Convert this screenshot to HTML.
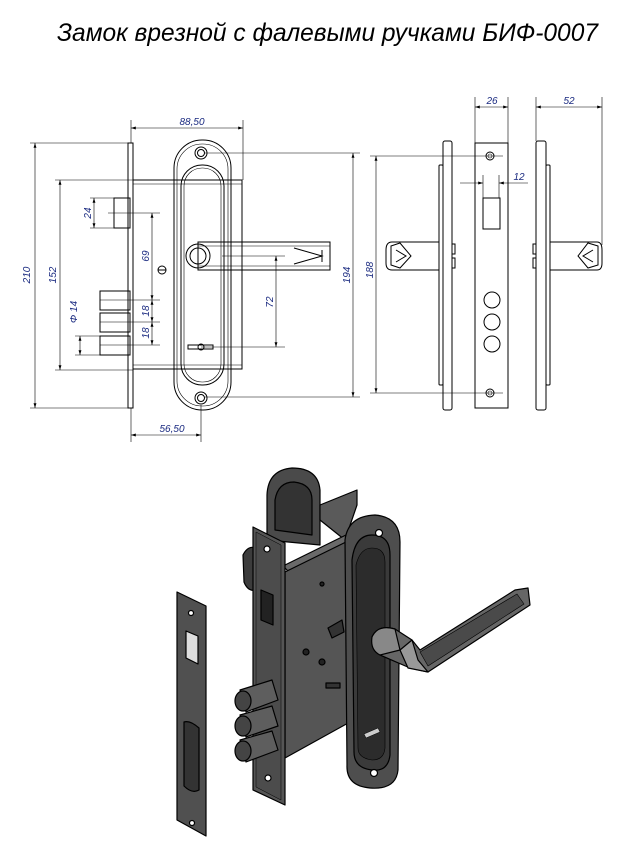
<!DOCTYPE html>
<html><head><meta charset="utf-8"><style>
html,body{margin:0;padding:0;background:#fff;}
svg{display:block}
.l{stroke:#000;stroke-width:1;fill:none}
.t{stroke:#000;stroke-width:0.6;fill:none}
.d{font-family:"Liberation Sans",sans-serif;font-style:italic;font-size:10px;fill:#1a2a80}
</style></head><body>
<svg width="628" height="851" viewBox="0 0 628 851" xmlns="http://www.w3.org/2000/svg">
<defs>
<marker id="a" viewBox="0 0 10 6" refX="10" refY="3" markerWidth="8" markerHeight="5" orient="auto-start-reverse"><path d="M0,0L10,3L0,6z" fill="#000"/></marker>
</defs>
<text x="57" y="41" font-family="'Liberation Sans','DejaVu Sans',sans-serif" font-style="italic" font-size="25" textLength="541" lengthAdjust="spacingAndGlyphs">Замок врезной с фалевыми ручками БИФ-0007</text>

<!-- FRONT VIEW -->
<rect class="l" x="128" y="143" width="5" height="265"/>
<rect class="l" x="133" y="180" width="109" height="189"/>
<line class="t" x1="133" y1="184" x2="242" y2="184"/>
<line class="t" x1="133" y1="365" x2="242" y2="365"/>
<rect class="l" x="114" y="198" width="16" height="30"/>
<rect class="l" x="100" y="291" width="30" height="19"/>
<rect class="l" x="100" y="313" width="30" height="19"/>
<rect class="l" x="100" y="336" width="30" height="19"/>
<circle class="l" cx="162" cy="270" r="4"/><line class="l" x1="158" y1="270" x2="166" y2="270"/>
<rect class="l" x="174" y="140" width="57" height="270" rx="28" fill="#fff"/>
<rect class="t" x="177" y="144" width="51" height="262" rx="25"/>
<rect class="l" x="181" y="165" width="43" height="220" rx="21"/>
<rect class="t" x="184" y="168" width="37" height="214" rx="18"/>
<circle class="l" cx="201" cy="153" r="6"/><circle class="l" cx="201" cy="153" r="3.5"/>
<circle class="l" cx="201" cy="398" r="6"/><circle class="l" cx="201" cy="398" r="3.5"/>
<rect class="l" x="198" y="242" width="132" height="28" fill="#fff"/>
<line class="t" x1="198" y1="246" x2="330" y2="246"/>
<line class="t" x1="198" y1="266" x2="330" y2="266"/>
<path class="l" d="M294,248L322,256L294,264M322,250L322,262"/>
<circle class="l" cx="198" cy="256" r="12" fill="#fff"/><circle class="l" cx="198" cy="256" r="8"/>
<rect class="l" x="188" y="345" width="25" height="4"/><circle class="l" cx="201" cy="347" r="3" fill="#fff"/>
<!-- dims front -->
<g class="t">
<line x1="30" y1="143" x2="128" y2="143"/><line x1="30" y1="408" x2="128" y2="408"/>
<line x1="55" y1="180" x2="133" y2="180"/><line x1="55" y1="370" x2="133" y2="370"/>
<line x1="90" y1="198" x2="114" y2="198"/><line x1="90" y1="228" x2="114" y2="228"/>
<line x1="108" y1="213" x2="160" y2="213"/>
<line x1="100" y1="300" x2="160" y2="300"/><line x1="100" y1="322" x2="160" y2="322"/><line x1="100" y1="345" x2="160" y2="345"/>
<line x1="75" y1="336" x2="100" y2="336"/><line x1="75" y1="355" x2="100" y2="355"/>
<line x1="222" y1="256" x2="285" y2="256"/><line x1="201" y1="347" x2="285" y2="347"/>
<line x1="205" y1="153" x2="360" y2="153"/><line x1="205" y1="397" x2="360" y2="397"/>
<line x1="131" y1="120" x2="131" y2="143"/><line x1="243" y1="120" x2="243" y2="180"/>
<line x1="201" y1="405" x2="201" y2="442"/><line x1="131" y1="408" x2="131" y2="442"/>
</g>
<g class="t" marker-start="url(#a)" marker-end="url(#a)">
<line x1="35" y1="143" x2="35" y2="408"/>
<line x1="60" y1="180" x2="60" y2="370"/>
<line x1="94" y1="198" x2="94" y2="228"/>
<line x1="152" y1="213" x2="152" y2="300"/>
<line x1="152" y1="300" x2="152" y2="322"/>
<line x1="152" y1="322" x2="152" y2="345"/>
<line x1="80" y1="336" x2="80" y2="355"/>
<line x1="276" y1="256" x2="276" y2="347"/>
<line x1="353" y1="153" x2="353" y2="397"/>
<line x1="131" y1="128" x2="243" y2="128"/>
<line x1="131" y1="435" x2="201" y2="435"/>
</g>
<text class="d" transform="translate(30,275) rotate(-90)" text-anchor="middle">210</text>
<text class="d" transform="translate(56,275) rotate(-90)" text-anchor="middle">152</text>
<text class="d" transform="translate(91,213) rotate(-90)" text-anchor="middle">24</text>
<text class="d" transform="translate(149,256) rotate(-90)" text-anchor="middle">69</text>
<text class="d" transform="translate(149,311) rotate(-90)" text-anchor="middle">18</text>
<text class="d" transform="translate(149,333) rotate(-90)" text-anchor="middle">18</text>
<text class="d" transform="translate(77,312) rotate(-90)" text-anchor="middle">Φ 14</text>
<text class="d" transform="translate(273,302) rotate(-90)" text-anchor="middle">72</text>
<text class="d" transform="translate(350,275) rotate(-90)" text-anchor="middle">194</text>
<text class="d" x="192" y="125" text-anchor="middle">88,50</text>
<text class="d" x="172" y="432" text-anchor="middle">56,50</text>

<!-- SIDE VIEW LEFT -->
<rect class="l" x="443" y="141" width="9" height="269" rx="2"/>
<rect class="l" x="439" y="165" width="4" height="220" rx="1"/>
<rect class="l" x="452" y="244" width="3" height="10"/><rect class="l" x="452" y="258" width="3" height="10"/>
<path class="l" d="M439,242L392,242Q386,242 386,250L386,263Q386,270 392,270L439,270"/>
<path class="l" d="M391,246L400,243L411,256L400,268L391,265Z M396,250L406,256L396,262"/>
<!-- strike middle -->
<rect class="l" x="475" y="143" width="33" height="265"/>
<circle class="l" cx="490" cy="156" r="4"/><circle class="t" cx="490" cy="156" r="2"/>
<circle class="l" cx="490" cy="393" r="4"/><circle class="t" cx="490" cy="393" r="2"/>
<rect class="l" x="483" y="198" width="17" height="31"/>
<circle class="l" cx="492" cy="300" r="8" stroke-width="2"/>
<circle class="l" cx="492" cy="322" r="8" stroke-width="2"/>
<circle class="l" cx="492" cy="344" r="8" stroke-width="2"/>
<!-- SIDE VIEW RIGHT -->
<rect class="l" x="536" y="141" width="10" height="269" rx="2"/>
<rect class="l" x="546" y="165" width="4" height="220" rx="1"/>
<rect class="l" x="533" y="244" width="3" height="10"/><rect class="l" x="533" y="258" width="3" height="10"/>
<path class="l" d="M550,242L597,242Q602,242 602,250L602,263Q602,270 597,270L550,270"/>
<path class="l" d="M598,246L588,243L578,256L588,268L598,265Z M593,250L583,256L593,262"/>
<!-- side dims -->
<g class="t">
<line x1="475" y1="97" x2="475" y2="143"/><line x1="508" y1="97" x2="508" y2="143"/>
<line x1="536" y1="97" x2="536" y2="141"/><line x1="602" y1="97" x2="602" y2="245"/>
<line x1="483" y1="175" x2="483" y2="198"/><line x1="499" y1="175" x2="499" y2="198"/>
<line x1="370" y1="156" x2="503" y2="156"/><line x1="370" y1="393" x2="503" y2="393"/>
<line x1="460" y1="183" x2="483" y2="183" marker-end="url(#a)"/>
<line x1="528" y1="183" x2="499" y2="183" marker-end="url(#a)"/>
</g>
<g class="t" marker-start="url(#a)" marker-end="url(#a)">
<line x1="475" y1="107" x2="508" y2="107"/>
<line x1="536" y1="107" x2="602" y2="107"/>
<line x1="376" y1="156" x2="376" y2="393"/>
</g>
<text class="d" x="492" y="104" text-anchor="middle">26</text>
<text class="d" x="569" y="104" text-anchor="middle">52</text>
<text class="d" x="519" y="180" text-anchor="middle">12</text>
<text class="d" transform="translate(373,270) rotate(-90)" text-anchor="middle">188</text>

<!-- 3D VIEW -->
<g stroke="#000" stroke-width="1.2" stroke-linejoin="round">
<!-- back rosette -->
<path d="M267,540L267,495Q268,470 292,468Q318,468 320,490L320,545Z" fill="#4a4a4a"/>
<path d="M275,530L275,500Q278,482 294,482Q312,484 312,500L312,535Z" fill="#333"/>
<!-- body top -->
<path d="M320,505L357,490L357,505L345,540L330,528L320,520Z" fill="#5a5a5a"/>
<path d="M283,566L350,533L357,540L290,573Z" fill="#6a6a6a"/>
<path d="M243,555Q248,545 256,548L256,590Q248,592 244,582Z" fill="#3c3c3c"/>
<!-- body front -->
<path d="M285,572L350,540L350,722L285,758Z" fill="#555"/>
<circle cx="322" cy="584" r="2" fill="#222"/>
<circle cx="306" cy="652" r="3" fill="#222"/><circle cx="322" cy="662" r="3" fill="#222"/>
<path d="M328,628L342,620L344,632L332,638Z" fill="#333"/>
<rect x="326" y="683" width="14" height="5" fill="#333"/>
<!-- faceplate -->
<path d="M253,527L285,543L285,805L253,790Z" fill="#555"/>
<path d="M256,532L281,545L281,800L256,787Z" fill="#4c4c4c" stroke-width="0.5"/>
<circle cx="267" cy="549" r="3" fill="#fff"/><circle cx="268" cy="778" r="3" fill="#fff"/>
<path d="M261,590L273,595L273,625L261,620Z" fill="#222"/>
<!-- bolts -->
<g fill="#5e5e5e">
<path d="M240,690L272,680L278,700L246,712Z"/><ellipse cx="243" cy="701" rx="8" ry="10" fill="#444"/>
<path d="M240,715L272,706L278,726L246,737Z"/><ellipse cx="243" cy="726" rx="8" ry="10" fill="#444"/>
<path d="M240,740L272,731L278,750L246,762Z"/><ellipse cx="243" cy="751" rx="8" ry="10" fill="#444"/>
</g>
<!-- strike plate -->
<path d="M177,592L206,606L206,836L177,820Z" fill="#505050"/>
<circle cx="191" cy="613" r="2.5" fill="#fff"/><circle cx="192" cy="823" r="2.5" fill="#fff"/>
<path d="M186,631L198,636L198,664L186,658Z" fill="#ddd"/>
<path d="M184,722Q190,720 199,728L199,790Q192,794 184,786Z" fill="#333"/>
<!-- front rosette -->
<path d="M345,540Q348,516 375,515Q400,517 400,542L398,770Q396,790 370,788Q346,786 347,765Z" fill="#4e4e4e"/>
<path d="M352,560Q355,535 372,535Q390,535 390,555L390,755Q388,772 372,770Q354,768 354,752Z" fill="#3a3a3a"/>
<path d="M356,565Q360,548 372,548Q385,548 385,562L385,748Q384,760 372,760Q358,758 358,748Z" fill="#2c2c2c" stroke-width="0.6"/>
<circle cx="379" cy="533" r="3.5" fill="#fff"/><circle cx="374" cy="773" r="3.5" fill="#fff"/>
<path d="M364,734L378,728L380,732L366,738Z" fill="#ccc" stroke-width="0.5"/>
<!-- handle -->
<path d="M372,637Q378,624 395,629L412,640L420,650L515,590L528,588L530,605L428,672L410,668L380,655Z" fill="#666"/>
<path d="M412,640L418,660L428,672L408,668L400,650Z" fill="#999"/>
<path d="M420,652L517,594L524,604L428,666Z" fill="#4a4a4a" stroke-width="0.6"/>
<path d="M372,637Q370,650 380,655L400,650L395,629Q378,624 372,637Z" fill="#888"/>
</g>
</svg>
</body></html>
